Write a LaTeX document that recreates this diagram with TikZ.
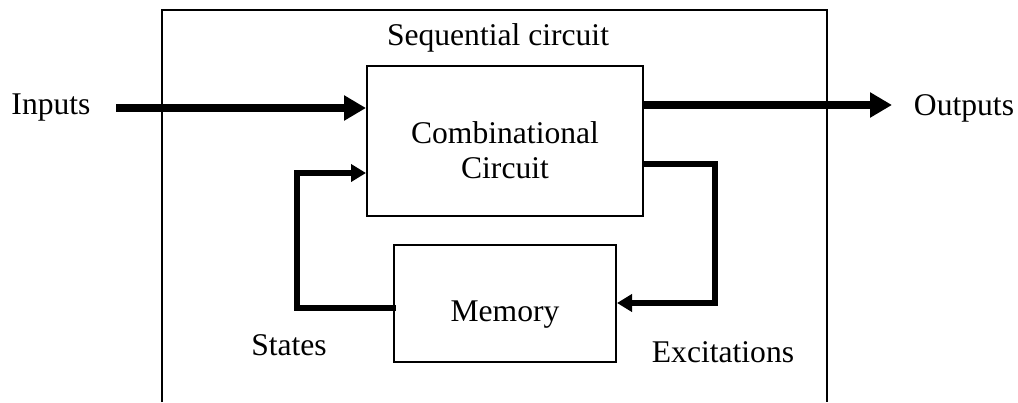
\documentclass[tikz,border=0pt]{standalone}
\usepackage{fontspec}
\setmainfont{Liberation Serif}
\usetikzlibrary{arrows.meta}
\begin{document}
\begin{tikzpicture}[x=1pt,y=-1pt,
  lbl/.style={font=\fontsize{31.6}{35}\selectfont, inner sep=0pt, anchor=base},
  blk/.style={draw, line width=2pt, inner sep=0pt},
  mainflow/.style={line width=7.5pt, -{Triangle[length=22pt,width=24pt]}},
  fback/.style={line width=6pt, line join=miter, -{Triangle[length=15pt,width=17pt]}}]
\useasboundingbox (0,0) rectangle (1018,402);
% outer box (open at the bottom)
\draw[line width=2pt] (162,402) -- (162,10) -- (827,10) -- (827,402);
\node[lbl] (seq) at (498,45) {Sequential circuit};
% blocks
\node[blk, minimum width=276pt, minimum height=150pt] (comb) at (505,141) {};
\node[lbl, align=center] (combtxt) at (505,178) {Combinational\\Circuit};
\node[blk, minimum width=222pt, minimum height=117pt] (mem) at (505,303.5) {};
\node[lbl] (memtxt) at (505,321) {Memory};
% labels
\node[lbl] (inputs) at (51,114) {Inputs};
\node[lbl] (outputs) at (964,115) {Outputs};
\node[lbl] (states) at (289,355) {States};
\node[lbl] (excit) at (723,362) {Excitations};
% connectors
\coordinate (inA) at (116,108);
\coordinate (outA) at (892,105);
\draw[mainflow] (inA) -- (inA -| comb.west);
\draw[mainflow] (outA -| comb.east) -- (outA);
\coordinate (exTop) at (715,164);
\coordinate (exBot) at (715,303);
\draw[fback] (exTop -| comb.east) -- (exTop) -- (exBot) -- (exBot -| mem.east);
\coordinate (stBot) at (297,308);
\coordinate (stTop) at (297,173);
\draw[fback, shorten <=-3pt] (stBot -| mem.west) -- (stBot) -- (stTop) -- (stTop -| comb.west);
\end{tikzpicture}
\end{document}
